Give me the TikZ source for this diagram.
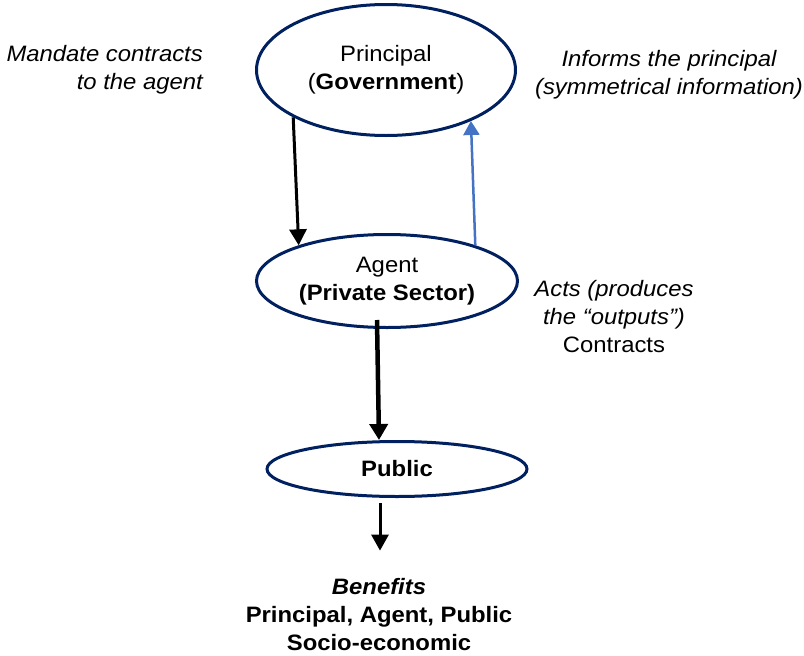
\documentclass[tikz,border=0pt]{standalone}
\usepackage{fontspec}
\setmainfont{Liberation Sans}[FakeStretch=1.07]
\usetikzlibrary{shapes.geometric,arrows.meta}
\definecolor{navy}{HTML}{002060}
\definecolor{linkblue}{HTML}{4472C4}
\begin{document}
\begin{tikzpicture}[x=1pt,y=-1pt,
  every node/.style={font=\fontsize{22.3}{28}\selectfont},
  oval/.style={ellipse, draw=navy, line width=3pt, inner sep=0pt, align=center},
  note/.style={align=center, inner sep=0pt},
  blackarrow/.style={draw=black, line width=3pt, -{Triangle[width=17pt,length=16pt]}},
  thickarrow/.style={draw=black, line width=4.5pt, -{Triangle[width=18pt,length=16pt]}},
  bluearrow/.style={draw=linkblue, line width=2.5pt, -{Triangle[width=16pt,length=14pt]}}]
\useasboundingbox (0,0) rectangle (804,656);

% the three parties
\node[oval, minimum width=259pt, minimum height=131pt] (principal) at (386,70)
  {Principal\\(\textbf{Government})};
\node[oval, minimum width=261pt, minimum height=93pt] (agent) at (387,281)
  {Agent\\\textbf{(Private Sector)}};
\node[oval, minimum width=260pt, minimum height=55pt] (public) at (397,469)
  {\textbf{Public}};

% side notes
\node[note, align=right, anchor=east] (mandate) at (203,70)
  {\itshape Mandate contracts\\\itshape to the agent};
\node[note] (informs) at (669,75)
  {\itshape Informs the principal\\\itshape (symmetrical information)};
\node[note] (acts) at (614,317)
  {\itshape Acts (produces\\\itshape the “outputs”)\\Contracts};
\node[note] (benefits) at (379,615)
  {\bfseries\itshape Benefits\\\bfseries Principal, Agent, Public\\\bfseries Socio-economic};

% relations
\draw[blackarrow] (principal.207) -- (agent.158);
\draw[bluearrow] (agent.22) -- (principal.-31);
\draw[thickarrow] ([xshift=-10pt,yshift=9pt]agent.south) -- ([xshift=-18pt]public.north);
\draw[blackarrow] ([xshift=-17pt,yshift=-5pt]public.south) -- ([xshift=1pt,yshift=28pt]benefits.north);
\end{tikzpicture}
\end{document}
